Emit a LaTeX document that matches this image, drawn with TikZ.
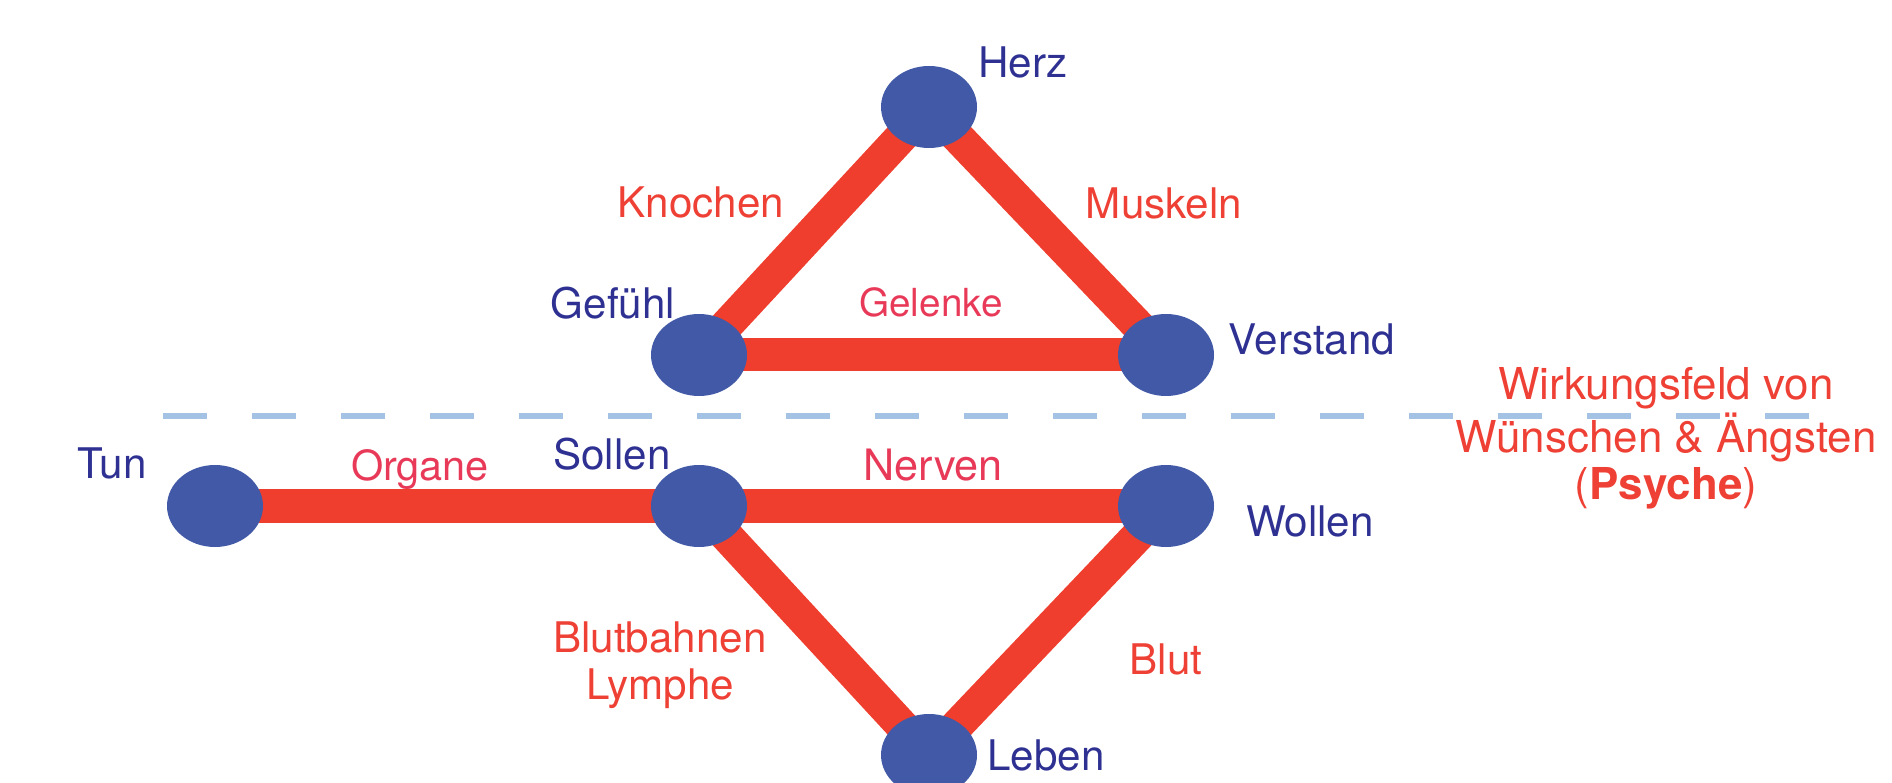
\documentclass[tikz,border=0pt]{standalone}
\usepackage{fontspec}
\setmainfont{TeX Gyre Heros}
\usetikzlibrary{shapes.geometric,positioning,backgrounds}

\definecolor{knotblue}{RGB}{65,89,166}
\definecolor{bandred}{RGB}{239,62,45}
\definecolor{partred}{RGB}{238,64,52}
\definecolor{softred}{RGB}{232,58,88}
\definecolor{nameblue}{RGB}{46,49,146}
\definecolor{fieldblue}{RGB}{164,194,228}

\tikzset{
  knot/.style={ellipse,fill=knotblue,minimum width=0.96cm,minimum height=0.82cm,inner sep=0pt},
  band/.style={draw=bandred,line width=0.33cm},
  knotname/.style={text=nameblue,font=\fontsize{12}{13.4}\selectfont,inner sep=0pt,anchor=base},
  partname/.style={text=partred,font=\fontsize{12}{13.4}\selectfont,inner sep=0pt,anchor=base,align=center},
  softname/.style={text=softred,font=\fontsize{11}{13.4}\selectfont,inner sep=0pt,anchor=base},
}

\begin{document}
\begin{tikzpicture}[on grid]
  \useasboundingbox (0,0) rectangle (18.92,-7.83);

  % upper triangle
  \node[knot] (herz)     at (9.29,-1.07)                        {};
  \node[knot] (gefuehl)  [below left=2.48cm and 2.30cm of herz] {};
  \node[knot] (verstand) [right=4.67cm of gefuehl]             {};
  % lower row
  \node[knot] (sollen)   [below=1.51cm of gefuehl]              {};
  \node[knot] (tun)      [left=4.84cm of sollen]                {};
  \node[knot] (wollen)   [right=4.67cm of sollen]               {};
  \node[knot] (leben)    [below right=2.49cm and 2.30cm of sollen] {};

  \begin{scope}[on background layer]
    \draw[band] (herz.center) -- (gefuehl.center);
    \draw[band] (herz.center) -- (verstand.center);
    \draw[band] (gefuehl.center) -- (verstand.center);
    \draw[band] (tun.center) -- (sollen.center);
    \draw[band] (sollen.center) -- (wollen.center);
    \draw[band] (sollen.center) -- (leben.center);
    \draw[band] (wollen.center) -- (leben.center);
  \end{scope}

  % names
  \node[knotname] (herzN)     at (10.23,-0.78) {Herz};
  \node[knotname] (gefuehlN)  at (6.13,-3.19)  {Gefühl};
  \node[knotname] (verstandN) at (13.12,-3.55) {Verstand};
  \node[knotname] (tunN)      at (1.12,-4.78)  {Tun};
  \node[knotname] (sollenN)   at (6.12,-4.69)  {Sollen};
  \node[knotname] (wollenN)   at (13.10,-5.37) {Wollen};
  \node[knotname] (lebenN)    at (10.46,-7.70) {Leben};

  % what joins them
  \node[partname] (knochen) at (7.01,-2.18)  {Knochen};
  \node[partname] (muskeln) at (11.64,-2.19) {Muskeln};
  \node[softname] (gelenke) at (9.31,-3.17)  {Gelenke};
  \node[softname,font=\fontsize{11.8}{13.4}\selectfont] (organe) at (4.20,-4.81) {Organe};
  \node[softname,font=\fontsize{12.3}{13.4}\selectfont] (nerven) at (9.33,-4.81) {Nerven};
  \node[partname,anchor=center] (bahnen) at (6.60,-6.65) {Blutbahnen\\Lymphe};
  \node[partname] (blut)    at (11.66,-6.74) {Blut};

  % border of the field
  \coordinate (fieldL) at (1.63,-4.16);
  \coordinate (fieldR) at (18.10,-4.16);
  \draw[fieldblue,line width=0.06cm,dash pattern=on 0.44cm off 0.45cm] (fieldL) -- (fieldR);
  \node[partname,anchor=center,font=\fontsize{12.5}{13.4}\selectfont] (psyche) at (16.66,-4.38)
    {Wirkungsfeld von\\Wünschen \& Ängsten\\(\textbf{Psyche})};
\end{tikzpicture}
\end{document}
